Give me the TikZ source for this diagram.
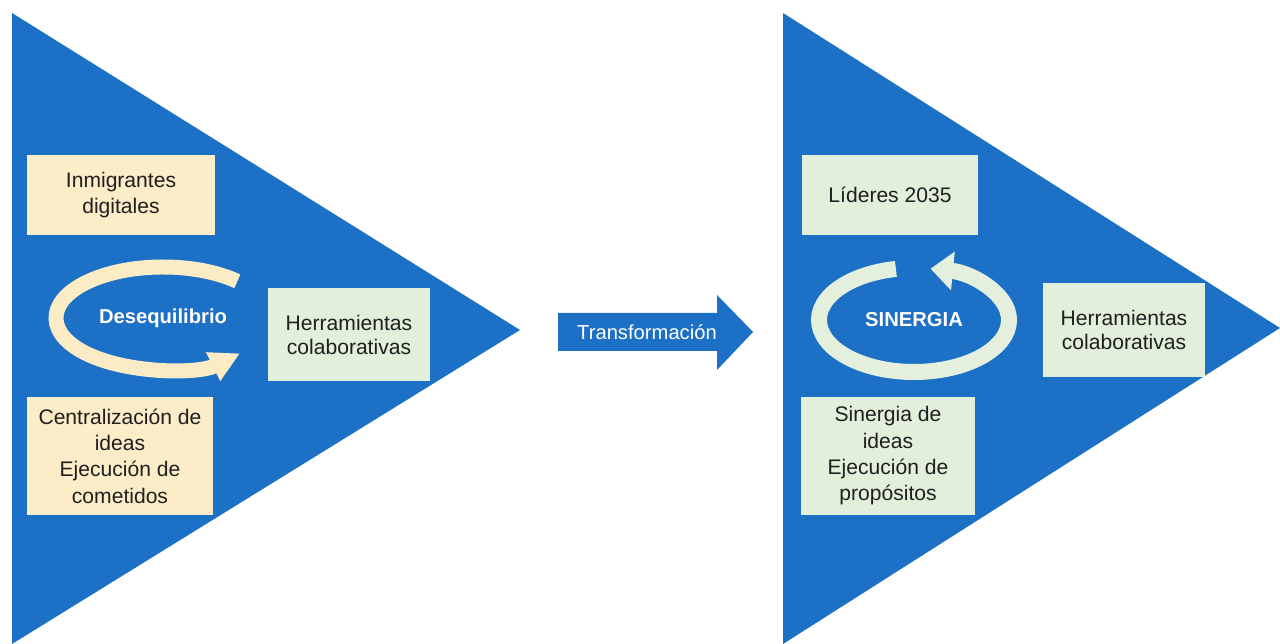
\documentclass[tikz,border=0pt]{standalone}
\usepackage{fontspec}
\setmainfont{Liberation Sans}
\usetikzlibrary{arrows.meta}

\definecolor{triblue}{RGB}{28,112,198}
\definecolor{oldfill}{RGB}{253,236,200}
\definecolor{newfill}{RGB}{226,239,218}
\definecolor{oldcycle}{RGB}{251,236,197}
\definecolor{newcycle}{RGB}{228,240,221}

\begin{document}
\begin{tikzpicture}[x=0.02cm, y=0.02cm,
  every node/.style={align=center, inner sep=0pt, text=black!88,
    font=\fontsize{12}{15}\selectfont},
  oldbox/.style={fill=oldfill},
  newbox/.style={fill=newfill},
  toolbox/.style={newbox, minimum width=3.24cm, font=\fontsize{12}{13.2}\selectfont},
  cyclelabel/.style={text=white!94!oldfill, font=\bfseries\fontsize{11.5}{14}\selectfont}]
  \useasboundingbox (0,0) rectangle (1280,644);

  % the two triangles
  \fill[triblue] (12,631) -- (520,314) -- (12,0) -- cycle;
  \fill[triblue] (783,631) -- (1280,316) -- (783,0) -- cycle;

  % left side: before
  \node[oldbox, minimum width=3.76cm, minimum height=1.6cm] (inmig) at (121,449) {Inmigrantes\\digitales};
  \node[oldbox, minimum width=3.72cm, minimum height=2.36cm] (central) at (120,188) {Centralización de\\ideas\\Ejecución de\\cometidos};
  \node[toolbox, minimum height=1.86cm] (herrL) at (349,309) {Herramientas\\colaborativas};
  \node[cyclelabel] (deseq) at (163,326) {Desequilibrio};
  \draw[oldcycle, line width=0.3cm, -{Triangle[length=0.6cm, width=0.6cm]}]
    ([shift={(46:107 and 51)}]deseq.center) arc[start angle=46, end angle=316, x radius=107, y radius=51];

  % middle arrow
  \fill[triblue] (558,293) -- (717,293) -- (717,274) -- (753,312) -- (717,349) -- (717,331) -- (558,331) -- cycle;
  \node[text=white, font=\fontsize{11.5}{14}\selectfont] (trans) at (647,312) {Transformación};

  % right side: after
  \node[newbox, minimum width=3.52cm, minimum height=1.6cm] (lideres) at (890,449) {Líderes 2035};
  \node[newbox, minimum width=3.5cm, minimum height=2.36cm] (sinideas) at (888,188) {Sinergia de\\ideas\\Ejecución de\\propósitos};
  \node[toolbox, minimum height=1.88cm] (herrR) at (1124,314) {Herramientas\\colaborativas};
  \node[cyclelabel] (sinerg) at (914,324) {SINERGIA};
  \draw[newcycle, line width=0.32cm, -{Triangle[length=0.45cm, width=0.75cm]}]
    ([shift={(101:95 and 52)}]sinerg.center) arc[start angle=101, end angle=440, x radius=95, y radius=52];
\end{tikzpicture}
\end{document}
